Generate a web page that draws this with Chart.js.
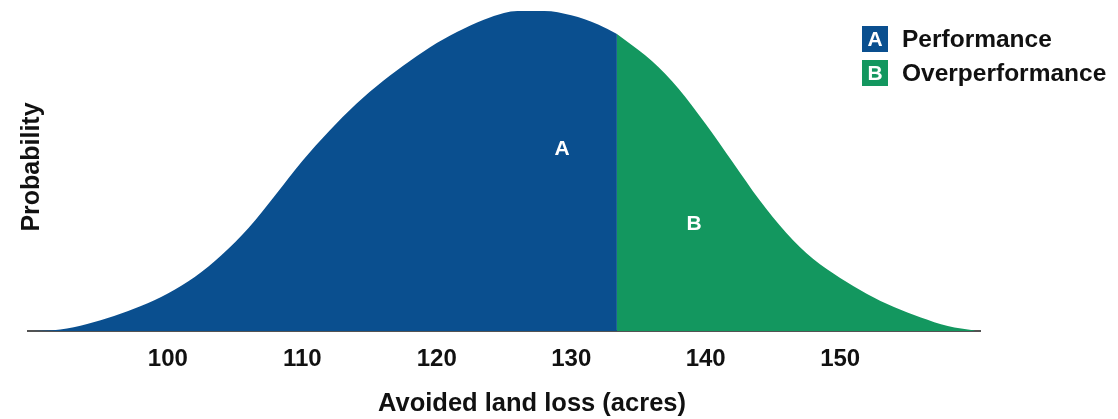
<!DOCTYPE html>
<html>
<head>
<meta charset="utf-8">
<title>Avoided land loss probability</title>
<script src="https://cdn.jsdelivr.net/npm/chart.js@4.4.1/dist/chart.umd.min.js"></script>
<style>
  html, body { margin: 0; padding: 0; background: #ffffff; }
  #wrap { width: 1118px; height: 419px; }
</style>
</head>
<body>
<div id="wrap"><canvas id="chart" width="1118" height="419"></canvas></div>
<script>
// Probability density of avoided land loss (acres), split at the performance threshold.
const performanceAcres = [90, 92, 94, 96, 98, 100, 102, 104, 106, 108, 110, 112, 114, 116, 118, 120, 122, 124, 126, 128, 130, 132, 133.4];
const performanceProb  = [0, 0.00013, 0.00062, 0.00133, 0.00222, 0.00333, 0.00479, 0.00675, 0.00915, 0.01208, 0.01509, 0.01776, 0.02016, 0.0222, 0.02397, 0.02557, 0.02684, 0.02786, 0.02841, 0.02841, 0.02803, 0.02721, 0.02637];

const overperformanceAcres = [133.4, 134, 136, 138, 140, 142, 144, 146, 148, 150, 152, 154, 156, 158, 160];
const overperformanceProb  = [0.02637, 0.02584, 0.02397, 0.02149, 0.01838, 0.01501, 0.01163, 0.0087, 0.00639, 0.00471, 0.00329, 0.00213, 0.0012, 0.00044, 0.00004];

const xTickValues = [100, 110, 120, 130, 140, 150];
const seriesNames = ['Performance', 'Overperformance'];
const seriesLetters = ['A', 'B'];

const BLUE = '#0a4f8f';
const GREEN = '#13975f';
const FONT = '"Liberation Sans", Arial, Helvetica, sans-serif';

const toPoints = (xs, ys) => xs.map((x, i) => ({ x: x, y: ys[i] }));

// Axis titles, legend with lettered swatches, and in-area letters.
const annotations = {
  id: 'annotations',
  afterDraw(chart) {
    const ctx = chart.ctx;
    ctx.save();

    // y-axis title
    ctx.fillStyle = '#111111';
    ctx.font = 'bold 25px ' + FONT;
    ctx.textAlign = 'center';
    ctx.textBaseline = 'middle';
    ctx.save();
    ctx.translate(32, 167);
    ctx.rotate(-Math.PI / 2);
    ctx.fillText('Probability', 0, 0);
    ctx.restore();

    // x-axis title
    ctx.font = 'bold 25.5px ' + FONT;
    ctx.fillText('Avoided land loss (acres)', 532, 404);

    // legend
    const colors = [BLUE, GREEN];
    const boxTops = [26, 60];
    for (let i = 0; i < 2; i++) {
      ctx.fillStyle = colors[i];
      ctx.fillRect(862, boxTops[i], 26, 26);
      ctx.fillStyle = '#ffffff';
      ctx.font = 'bold 21px ' + FONT;
      ctx.textAlign = 'center';
      ctx.fillText(seriesLetters[i], 875, boxTops[i] + 14);
      ctx.fillStyle = '#111111';
      ctx.font = 'bold 24.5px ' + FONT;
      ctx.textAlign = 'left';
      ctx.fillText(seriesNames[i], 902, boxTops[i] + 14);
    }

    // letters inside the filled regions
    ctx.fillStyle = '#ffffff';
    ctx.font = 'bold 21px ' + FONT;
    ctx.textAlign = 'center';
    ctx.fillText(seriesLetters[0], 562, 149);
    ctx.fillText(seriesLetters[1], 694, 224);

    ctx.restore();
  }
};

new Chart(document.getElementById('chart'), {
  type: 'line',
  data: {
    datasets: [
      {
        label: seriesNames[0],
        data: toPoints(performanceAcres, performanceProb),
        backgroundColor: BLUE,
        borderColor: BLUE,
        borderWidth: 0,
        pointRadius: 0,
        fill: 'origin',
        cubicInterpolationMode: 'monotone'
      },
      {
        label: seriesNames[1],
        data: toPoints(overperformanceAcres, overperformanceProb),
        backgroundColor: GREEN,
        borderColor: GREEN,
        borderWidth: 0,
        pointRadius: 0,
        fill: 'origin',
        cubicInterpolationMode: 'monotone'
      }
    ]
  },
  options: {
    responsive: false,
    animation: false,
    events: [],
    layout: { padding: { left: 28, right: 138, top: 4, bottom: 0 } },
    plugins: {
      legend: { display: false },
      tooltip: { enabled: false }
    },
    scales: {
      x: {
        type: 'linear',
        min: 89.6,
        max: 160.4,
        z: 1,
        afterBuildTicks(scale) {
          scale.ticks = xTickValues.map(v => ({ value: v }));
        },
        afterFit(scale) {
          scale.height = 88;
        },
        grid: { display: false, drawTicks: false },
        border: { display: true, color: 'rgba(25,25,25,0.75)', width: 2 },
        ticks: {
          color: '#111111',
          padding: 14,
          font: { family: FONT, size: 24, weight: 'bold' },
          callback: v => String(v)
        }
      },
      y: {
        display: false,
        min: 0,
        max: 0.02903
      }
    }
  },
  plugins: [annotations]
});
</script>
</body>
</html>
